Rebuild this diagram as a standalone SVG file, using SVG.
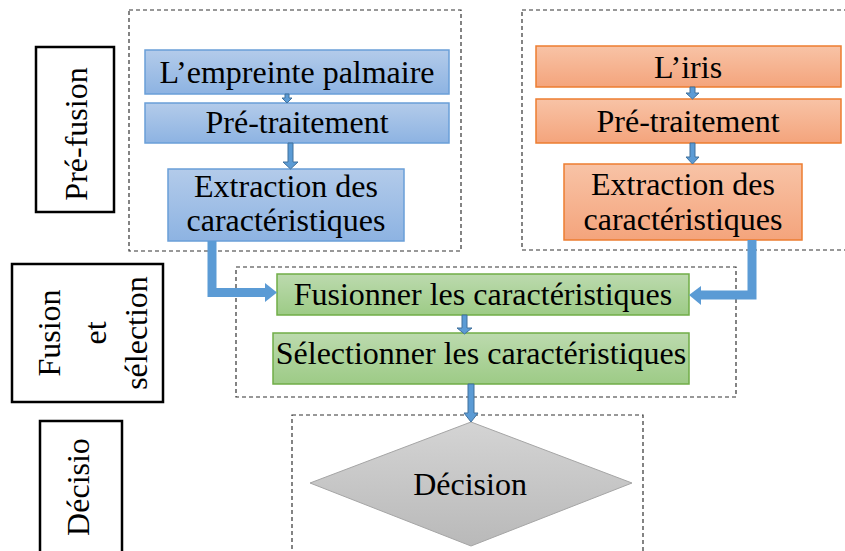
<svg xmlns="http://www.w3.org/2000/svg" width="845" height="551" viewBox="0 0 845 551" font-family="'Liberation Serif', 'Times New Roman', serif">
<defs>
<linearGradient id="gb" x1="0" y1="0" x2="0" y2="1"><stop offset="0" stop-color="#b3cbea"/><stop offset="1" stop-color="#8db3e2"/></linearGradient>
<linearGradient id="go" x1="0" y1="0" x2="0" y2="1"><stop offset="0" stop-color="#f8c3a6"/><stop offset="1" stop-color="#f4a47c"/></linearGradient>
<linearGradient id="gg" x1="0" y1="0" x2="0" y2="1"><stop offset="0" stop-color="#bcdaae"/><stop offset="1" stop-color="#9dcb86"/></linearGradient>
<linearGradient id="gd" x1="0" y1="0" x2="0" y2="1"><stop offset="0" stop-color="#d4d4d4"/><stop offset="1" stop-color="#b9b9b9"/></linearGradient>
</defs>
<style>
text{font-family:'Liberation Serif','Times New Roman',serif;font-size:32px;fill:#000;text-anchor:middle}
.dash{fill:none;stroke:#333;stroke-width:1.2;stroke-dasharray:4 3}
.lab{fill:#fff;stroke:#000;stroke-width:2.5}
.blue{fill:url(#gb);stroke:#6a9fd8;stroke-width:1.5}
.orange{fill:url(#go);stroke:#ed7d31;stroke-width:1.5}
.green{fill:url(#gg);stroke:#70ad47;stroke-width:1.5}
.dia{fill:url(#gd);stroke:#a5a5a5;stroke-width:1}
.blk{fill:#5b9bd5;stroke:#41719c;stroke-width:1}
.elb{fill:none;stroke:#5b9bd5;stroke-width:9}
.head{fill:#5b9bd5}
</style>
<g id="groups">
<rect class="dash" x="129" y="10" width="332" height="241"/>
<rect class="dash" x="522" y="10" width="330" height="240"/>
<rect class="dash" x="236" y="267" width="500" height="130"/>
<rect class="dash" x="292" y="415" width="351" height="150"/>
</g>
<g id="label-prefusion">
<rect class="lab" x="36" y="47" width="78" height="165"/>
<text transform="translate(87,134) rotate(-90)">Pré-fusion</text>
</g>
<g id="label-fusion">
<rect class="lab" x="12" y="264" width="151" height="138"/>
<text transform="translate(60,333) rotate(-90)">Fusion</text>
<text transform="translate(106,333) rotate(-90)">et</text>
<text transform="translate(147,333) rotate(-90)">sélection</text>
</g>
<g id="label-decision">
<rect class="lab" x="40" y="421" width="82" height="150"/>
<text transform="translate(89,487) rotate(-90)">Décisio</text>
</g>
<g id="palm">
<rect class="blue" x="145" y="50" width="304" height="44"/>
<text x="297" y="83">L’empreinte palmaire</text>
</g>
<g id="palm-pre">
<rect class="blue" x="145" y="103" width="304" height="40"/>
<text x="297" y="133">Pré-traitement</text>
</g>
<g id="palm-ext">
<rect class="blue" x="168" y="169" width="236" height="72"/>
<text x="286" y="197">Extraction des</text>
<text x="286" y="231">caractéristiques</text>
</g>
<g id="iris">
<rect class="orange" x="536" y="46" width="305" height="41"/>
<text x="688" y="78">L’iris</text>
</g>
<g id="iris-pre">
<rect class="orange" x="536" y="99" width="305" height="44"/>
<text x="688" y="132">Pré-traitement</text>
</g>
<g id="iris-ext">
<rect class="orange" x="564" y="164" width="238" height="76"/>
<text x="683" y="195">Extraction des</text>
<text x="683" y="230">caractéristiques</text>
</g>
<g id="fuse">
<rect class="green" x="277" y="274" width="412" height="41"/>
<text x="483" y="305">Fusionner les caractéristiques</text>
</g>
<g id="select">
<rect class="green" x="273" y="333" width="416" height="51"/>
<text x="481" y="364">Sélectionner les caractéristiques</text>
</g>
<g id="decision">
<polygon class="dia" points="471,422 632,483 471,546 310,483"/>
<text x="470" y="495">Décision</text>
</g>
<g id="connectors">
<polygon class="blk" points="285,94 289,94 289,98 292,98 287,103 282,98 285,98"/>
<polygon class="blk" points="288,143 293,143 293,162 298,162 290.5,169 283,162 288,162"/>
<polygon class="blk" points="690,87 695,87 695,93 699,93 692.5,99 686,93 690,93"/>
<polygon class="blk" points="690,143 695,143 695,157 699,157 692.5,164 686,157 690,157"/>
<polygon class="blk" points="462,315 467,315 467,328 472,328 464.5,334 457,328 462,328"/>
<polygon class="blk" points="468,384 474,384 474,413 478,413 471,422 464,413 468,413"/>
<polyline class="elb" points="212,241 212,292.5 266,292.5"/>
<polygon class="head" points="265,283 277,292.5 265,302"/>
<polyline class="elb" points="752,240 752,295 700,295"/>
<polygon class="head" points="701,286 689,295 701,305"/>
</g>
</svg>
